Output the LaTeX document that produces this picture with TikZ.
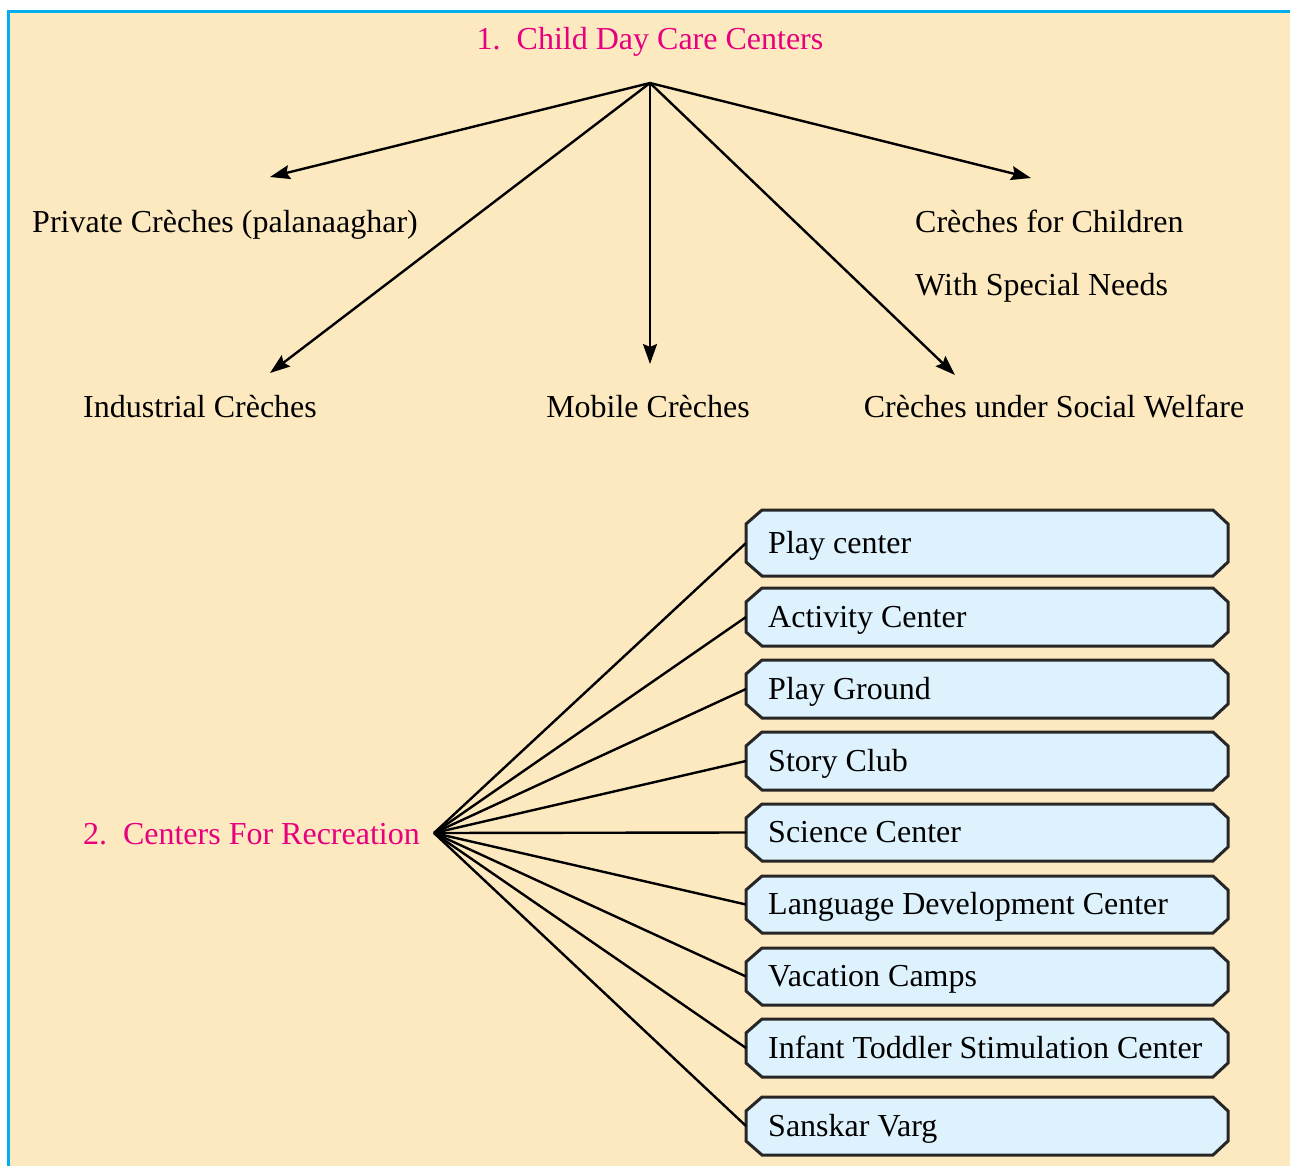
\documentclass[tikz,border=0pt]{standalone}
\usepackage{fontspec}
\setmainfont{Liberation Serif}
\usetikzlibrary{arrows.meta,positioning}
\definecolor{cream}{RGB}{253,233,192}
\definecolor{framebl}{RGB}{0,174,239}
\definecolor{boxbl}{RGB}{221,242,253}
\definecolor{headpink}{RGB}{230,0,126}
\tikzset{
  txt/.style={inner sep=0pt, anchor=base, font=\fontsize{32}{38}\selectfont},
  head/.style={txt, text=headpink},
  arr/.style={line width=2.4pt, -{Stealth[length=20pt,width=14pt,inset=3pt]}},
  spoke/.style={line width=2.4pt},
  boxline/.style={draw=black!85, line width=3pt, fill=boxbl, line join=miter},
  optbox/.style={rectangle, inner xsep=22pt, inner ysep=0pt, anchor=west,
    text height=22pt, text depth=2pt, font=\fontsize{32}{38}\selectfont}
}
\begin{document}
\begin{tikzpicture}[x=1pt,y=-1pt]
\useasboundingbox (0,0) rectangle (1290,1166);
\fill[cream] (8,12) rectangle (1290,1166);
\draw[framebl, line width=3pt] (8,1166) -- (8,12) -- (1290,12);

% part 1
\node[head] (care) at (650,50) {1.\ \ Child Day Care Centers};
\coordinate (apex) at (650,83);
\node[txt] (priv) at (225,233) {Private Crèches (palanaaghar)};
\node[txt, anchor=base west] (spec1) at (915,233) {Crèches for Children};
\node[txt, anchor=base west] (spec2) at (915,295) {With Special Needs};
\node[txt] (ind) at (200,417) {Industrial Crèches};
\node[txt] (mob) at (648,417) {Mobile Crèches};
\node[txt] (soc) at (1054,417) {Crèches under Social Welfare};
\coordinate (privend) at (270,177);
\coordinate (indend) at (270,373);
\coordinate (mobend) at (650,364);
\coordinate (socend) at (955,375);
\coordinate (specend) at (1031,178);
\foreach \e in {privend,indend,mobend,socend,specend}
  \draw[arr] (apex) -- (\e);

% part 2
\node[head, anchor=base east] (rec) at (420,844) {2.\ \ Centers For Recreation};
\coordinate (fan) at (434,833);
\foreach \n/\y/\h/\t in {b1/543/33/Play center, b2/617/29/Activity Center,
    b3/689/29/Play Ground, b4/761/29/Story Club, b5/832.5/28.5/Science Center,
    b6/904.5/28.5/Language Development Center, b7/976.5/28.5/Vacation Camps,
    b8/1048/29/Infant Toddler Stimulation Center, b9/1126/29/Sanskar Varg}{
  \draw[boxline] (762,\y-\h) -- (1213,\y-\h) -- (1228,\y-\h+14) -- (1228,\y+\h-14)
    -- (1213,\y+\h) -- (762,\y+\h) -- (746,\y+\h-14) -- (746,\y-\h+14) -- cycle;
  \node[optbox, minimum height=2*\h pt] (\n) at (746,\y) {\makebox[438pt][l]{\t}};
  \draw[spoke] (fan) -- (\n.west);
}
\end{tikzpicture}
\end{document}
